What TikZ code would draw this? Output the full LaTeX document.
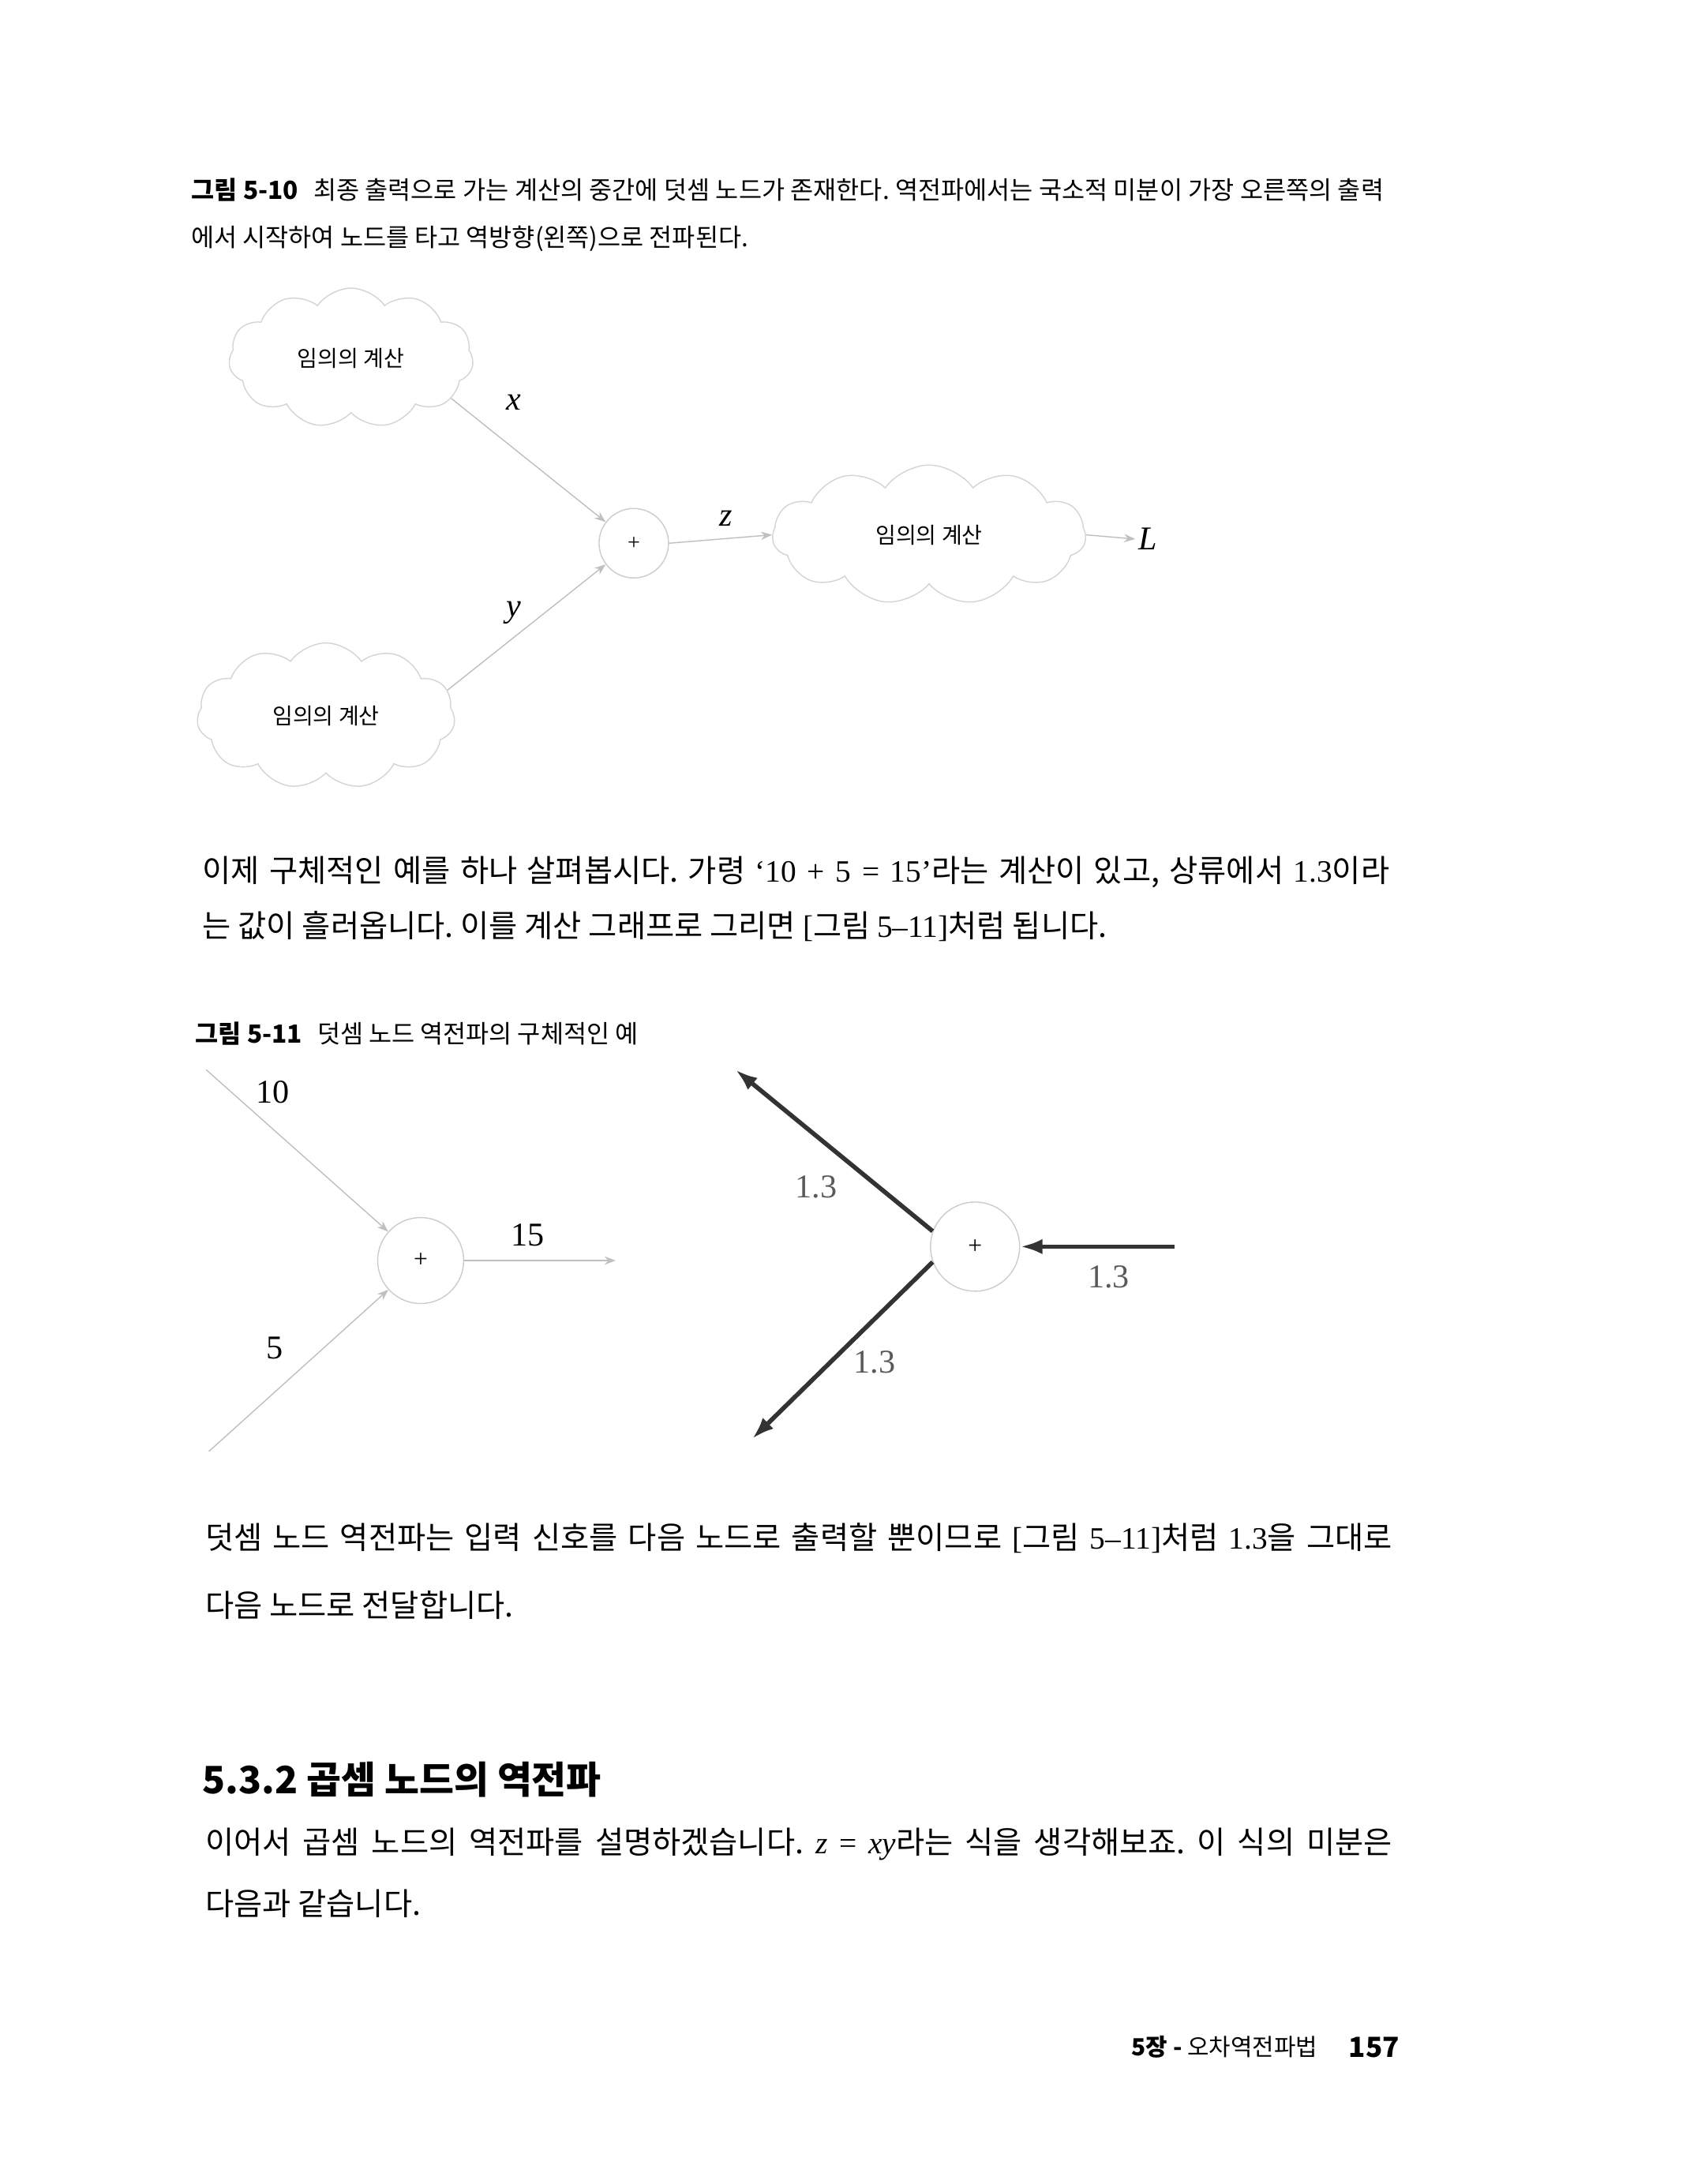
\documentclass[tikz,border=0pt]{standalone}
\usepackage{fontspec}
\setmainfont{Noto Sans CJK KR}
\newfontfamily\lat{Liberation Serif}
\usetikzlibrary{shapes.symbols,arrows.meta,positioning}
\frenchspacing

\begin{document}
\begin{tikzpicture}[
    x=0.01765cm, y=-0.01765cm,
    txt/.style={anchor=base west, inner sep=0pt},
    caption/.style={txt, font=\fontsize{9}{10}\selectfont},
    body/.style={txt, font=\fontsize{11.2}{13}\selectfont},
    cloudnode/.style={cloud, cloud puffs=11, cloud puff arc=110, cloud ignores aspect, draw=black!17, font=\fontsize{8}{10}\selectfont, inner sep=0pt},
    opnode/.style={circle, draw=black!20, inner sep=0pt, font=\fontsize{8}{10}\selectfont\lat},
    var/.style={font=\fontsize{12}{14}\selectfont\lat\itshape, inner sep=1pt},
    num/.style={font=\fontsize{12}{14}\selectfont\lat, inner sep=1pt},
    faint/.style={draw=black!25, line width=0.4pt, -{Stealth[length=4pt,width=3pt]}},
    back/.style={draw=black!80, line width=1.6pt, -{Latex[length=8pt,width=5.5pt]}}
]
\fill[white] (0,0) rectangle (1213,1568);
\useasboundingbox (0,0) rectangle (1213,1568);

% Caption 5-10
\node[caption] (cap1a) at (137,143) {\makebox[430pt][s]{{\bfseries 그림 5-10}\hspace{0.6em}최종 출력으로 가는 계산의 중간에 덧셈 노드가 존재한다. 역전파에서는 국소적 미분이 가장 오른쪽의 출력}};
\node[caption] (cap1b) at (137,177) {에서 시작하여 노드를 타고 역방향(왼쪽)으로 전파된다.};

% Forward graph with clouds
\node[cloudnode, minimum width=3.1cm, minimum height=1.77cm] (calc1) at (252,257) {임의의 계산};
\node[cloudnode, minimum width=3.27cm, minimum height=1.85cm] (calc3) at (234,514) {임의의 계산};
\node[opnode, minimum size=0.88cm] (addA) at (455,390) {+};
\node[cloudnode, minimum width=3.97cm, minimum height=1.77cm] (calc2) at (667,384) {임의의 계산};
\node[var] (lossL) at (824,387) {L};

\draw[faint] (calc1.-22) -- (addA.143);
\draw[faint] (calc3.12) -- (addA.217);
\draw[faint] (addA.east) -- (calc2.west);
\draw[faint] (calc2.east) -- (lossL.west);

\node[var] at (369,289) {x};
\node[var] at (521,372) {z};
\node[var] at (369,440) {y};

% Paragraph
\node[body] (par1a) at (145,633) {\makebox[428pt][s]{이제 구체적인 예를 하나 살펴봅시다. 가령 {\lat ‘10 + 5 = 15’}라는 계산이 있고, 상류에서 {\lat 1.3}이라}};
\node[body] (par1b) at (145,673) {는 값이 흘러옵니다. 이를 계산 그래프로 그리면 {\lat [}그림 {\lat 5–11]}처럼 됩니다.};

% Caption 5-11
\node[caption] (cap2) at (140,749) {{\bfseries 그림 5-11}\hspace{0.6em}덧셈 노드 역전파의 구체적인 예};

% Forward example
\node[opnode, minimum size=1.09cm, font=\fontsize{9}{10}\selectfont\lat] (addB) at (302,905) {+};
\coordinate (in10) at (148,768);
\coordinate (in5) at (150,1042);
\coordinate (out15) at (442,905);
\draw[faint] (in10) -- (addB);
\draw[faint] (in5) -- (addB);
\draw[faint] (addB) -- (out15);
\node[num] at (196,784) {10};
\node[num] at (379,887) {15};
\node[num] at (197,968) {5};

% Backward example
\node[opnode, minimum size=1.13cm, font=\fontsize{9}{10}\selectfont\lat] (addC) at (700,895) {+};
\coordinate (gradIn) at (843,895);
\coordinate (gradUp) at (528,768);
\coordinate (gradDown) at (540,1033);
\draw[back] (gradIn) -- (addC.east);
\draw[back] (addC.160) -- (gradUp);
\draw[back] (addC.200) -- (gradDown);
\node[num, text=black!65] at (586,852) {1.3};
\node[num, text=black!65] at (796,917) {1.3};
\node[num, text=black!65] at (628,978) {1.3};

% Paragraph
\node[body] (par2a) at (147,1112) {\makebox[428pt][s]{덧셈 노드 역전파는 입력 신호를 다음 노드로 출력할 뿐이므로 {\lat [}그림 {\lat 5–11]}처럼 {\lat 1.3}을 그대로}};
\node[body] (par2b) at (147,1161) {다음 노드로 전달합니다.};

% Section heading
\node[txt, font=\fontsize{13.6}{15}\selectfont\bfseries] (sec) at (145,1288) {5.3.2 곱셈 노드의 역전파};

% Paragraph
\node[body] (par3a) at (147,1331) {\makebox[428pt][s]{이어서 곱셈 노드의 역전파를 설명하겠습니다. {\lat\itshape z} {\lat =} {\lat\itshape xy}라는 식을 생각해보죠. 이 식의 미분은}};
\node[body] (par3b) at (147,1375) {다음과 같습니다.};

% Footer
\node[txt, font=\fontsize{8.5}{10}\selectfont] (foot) at (812,1476) {{\bfseries 5장 -} 오차역전파법};
\node[txt, font=\fontsize{10}{12}\selectfont\bfseries] (page) at (968,1477) {157};

\end{tikzpicture}
\end{document}
